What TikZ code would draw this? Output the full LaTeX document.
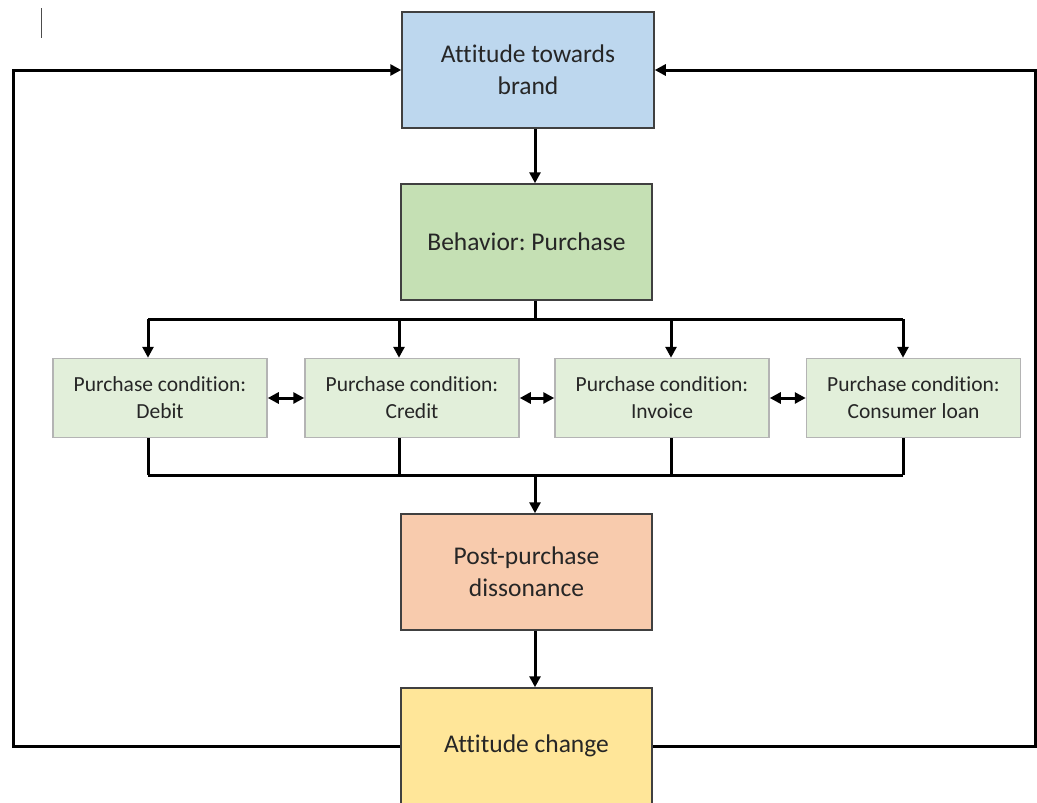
\documentclass[tikz,border=0pt]{standalone}
\usepackage{fontspec}
\setmainfont{Carlito}[Ligatures=NoCommon]
\usepackage{tikz}
\usetikzlibrary{arrows.meta}
\frenchspacing

\definecolor{brandFill}{HTML}{BDD7EE}
\definecolor{behaviorFill}{HTML}{C5E0B4}
\definecolor{condFill}{HTML}{E2EFDA}
\definecolor{postFill}{HTML}{F8CBAD}
\definecolor{changeFill}{HTML}{FFE699}
\definecolor{boxBorder}{HTML}{404040}
\definecolor{condBorder}{HTML}{B4B4B4}
\definecolor{textCol}{HTML}{262626}

\begin{document}
\begin{tikzpicture}[x=1pt, y=-1pt, line width=3pt,
        >={Triangle[length=11pt,width=11pt]},
        mainbox/.style = {draw=boxBorder,
            line width=1.5pt,
            minimum width=251pt,
            minimum height=116pt,
            inner sep=0pt,
            align=center,
            text=textCol,
            font=\fontsize{25.5}{32}\selectfont},
        condbox/.style = {draw=condBorder,
            fill=condFill,
            line width=1.5pt,
            minimum width=214pt,
            minimum height=79pt,
            inner sep=0pt,
            align=center,
            text=textCol,
            font=\fontsize{21.5}{27}\selectfont}]

    \useasboundingbox (0,0) rectangle (1037,803);
    \clip (0,0) rectangle (1037,803);

    % Main boxes
    \node[mainbox, fill=brandFill, minimum width=252pt] (brand) at (528,70) {Attitude towards\\brand};
    \node[mainbox, fill=behaviorFill] (behavior) at (526.5,242) {Behavior: Purchase};
    \node[mainbox, fill=postFill] (post) at (526.5,572) {Post-purchase\\dissonance};
    \node[mainbox, fill=changeFill] (change) at (526.5,746) {Attitude change};

    % Purchase conditions
    \node[condbox] (debit) at (160,398) {Purchase condition:\\Debit};
    \node[condbox] (credit) at (412,398) {Purchase condition:\\Credit};
    \node[condbox] (invoice) at (662,398) {Purchase condition:\\Invoice};
    \node[condbox] (loan) at (913.5,398) {Purchase condition:\\Consumer loan};

    % Split and merge points
    \coordinate (split) at (535,319);
    \coordinate (merge) at (535,475);
    \coordinate (loopL) at (13,70);
    \coordinate (loopR) at (1035,70);

    \draw[->] (brand.south -| split) -- (behavior.north -| split);
    \draw (behavior.south -| split) -- (split);
    \draw (148,319) -- (903,319);
    \draw[->] (148,319) -- (148,0 |- debit.north);
    \draw[->] (399,319) -- (399,0 |- credit.north);
    \draw[->] (671,319) -- (671,0 |- invoice.north);
    \draw[->] (903,319) -- (903,0 |- loan.north);

    % Between conditions
    \draw[<->] (debit) -- (credit);
    \draw[<->] (credit) -- (invoice);
    \draw[<->] (invoice) -- (loan);

    \draw (148,0 |- debit.south) -- (148,475);
    \draw (399,0 |- credit.south) -- (399,475);
    \draw (671,0 |- invoice.south) -- (671,475);
    \draw (903,0 |- loan.south) -- (903,475);
    \draw (148,475) -- (903,475);
    \draw[->] (merge) -- (post.north -| merge);

    \draw[->] (post.south -| merge) -- (change.north -| merge);

    % Feedback loops
    \draw[->] (change.west) -| (loopL) -- (brand.west);
    \draw[->] (change.east) -| (loopR) -- (brand.east);

    % cursor mark
    \draw[line width=1pt, black!70] (41,8) -- (41,38);

\end{tikzpicture}
\end{document}
